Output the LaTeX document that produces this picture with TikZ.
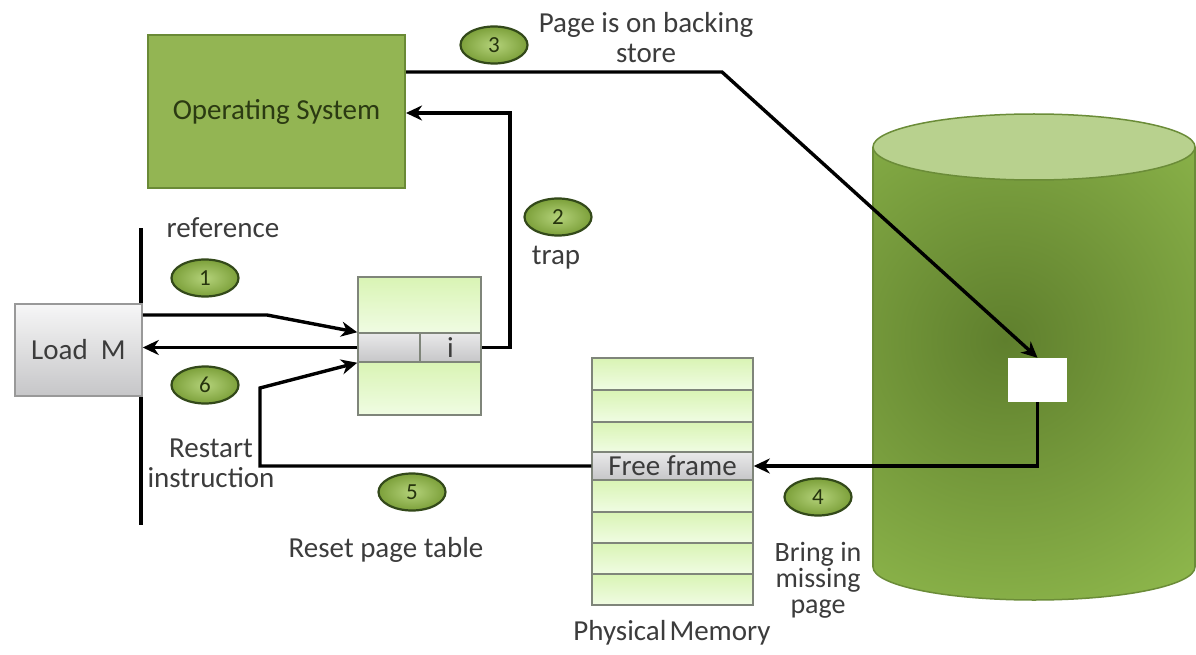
\documentclass[tikz,border=0pt]{standalone}
\usepackage{fontspec}
\setmainfont{Carlito}
\usetikzlibrary{shapes.geometric,arrows.meta,calc}
\definecolor{osfill}{HTML}{93B553}
\definecolor{osdraw}{HTML}{6A8A36}
\definecolor{ostxt}{HTML}{2B3A12}
\definecolor{txt}{HTML}{3C3C3C}
\definecolor{numdraw}{HTML}{33491A}
\definecolor{numin}{HTML}{B4D27A}
\definecolor{numout}{HTML}{7CA03A}
\definecolor{numtxt}{HTML}{26340E}
\definecolor{celltop}{HTML}{D9F4B4}
\definecolor{cellbot}{HTML}{F0FCE3}
\definecolor{cellb}{HTML}{7F857A}
\definecolor{graytop}{HTML}{E9E9EA}
\definecolor{graybot}{HTML}{C6C6C8}
\definecolor{cylin}{HTML}{5F7F2D}
\definecolor{cylout}{HTML}{8DB64B}
\definecolor{cyltop}{HTML}{B8D18E}
\definecolor{cyldraw}{HTML}{6B8C38}
\begin{document}
\begin{tikzpicture}[x=1pt,y=-1pt,
  lbl/.style={font=\fontsize{29}{30}\selectfont, text=txt, inner sep=0pt, align=center},
  num/.style={ellipse, draw=numdraw, line width=2.2pt, inner color=numin, outer color=numout,
    minimum width=67pt, minimum height=37pt, inner sep=0pt,
    font=\fontsize{23}{23}\selectfont, text=numtxt},
  cell/.style={draw=cellb, line width=1.5pt, top color=celltop, bottom color=cellbot,
    minimum width=123pt, inner sep=0pt},
  memrow/.style={draw=cellb, line width=1.5pt, top color=celltop, bottom color=cellbot,
    minimum width=161pt, inner sep=0pt},
  grayrow/.style={draw=cellb, line width=1.5pt, top color=graytop, bottom color=graybot,
    inner sep=0pt, font=\fontsize{29}{30}\selectfont, text=txt},
  arr/.style={line width=3.4pt, draw=black, -{Stealth[length=16pt,width=15pt,inset=5pt]}},
  plain/.style={line width=3.4pt, draw=black}
]
\useasboundingbox (0,0) rectangle (1196,655);
\fill[white] (0,0) rectangle (1196,655);

% cylinder (backing store)
\begin{scope}
  \clip (873,147) rectangle (1195,567);
  \shade[inner color=cylin, outer color=cylout] (1005,340) circle (300pt);
\end{scope}
\begin{scope}
  \clip (1034,567) ellipse [x radius=161pt, y radius=33pt];
  \shade[inner color=cylin, outer color=cylout] (1005,340) circle (300pt);
\end{scope}
\begin{scope}
  \clip (860,567) rectangle (1196,620);
  \draw[cyldraw, line width=1.5pt] (1034,567) ellipse [x radius=161pt, y radius=33pt];
\end{scope}
\draw[cyldraw, line width=1.5pt] (873,147) -- (873,567) (1195,147) -- (1195,567);
\draw[cyldraw, line width=1.5pt, fill=cyltop] (1034,147) ellipse [x radius=161pt, y radius=33pt];
\node[fill=white, minimum width=59pt, minimum height=44pt, inner sep=0pt] (sq) at (1037.5,380) {};

% operating system
\node[draw=osdraw, line width=2pt, fill=osfill, minimum width=257pt, minimum height=153pt,
  font=\fontsize{29}{30}\selectfont, text=ostxt, inner sep=0pt] (os) at (276.5,111.5) {Operating System};

% vertical reference line and Load M
\coordinate (vt) at (141,228);
\coordinate (vb) at (141,525);
\draw[plain] (vt) -- (vb);
\node[draw=gray!80, line width=1.5pt, top color=graytop!40!white, bottom color=graybot,
  minimum width=127pt, minimum height=92pt, inner sep=0pt,
  font=\fontsize{29}{30}\selectfont, text=txt] (load) at (78.5,350) {Load\ \ M};

% page table
\node[cell, minimum height=56pt] (pt1) at (419.5,305) {};
\node[cell, minimum height=53pt] (pt3) at (419.5,388.5) {};
\node[grayrow, minimum width=62pt, minimum height=29pt] (pl) at (389,347.5) {};
\node[grayrow, minimum width=61pt, minimum height=29pt] (pr) at (450.5,347.5) {i};

% physical memory
\foreach \c/\h [count=\i] in {374/32,406/32,437/30,496/32,527.5/31,558.5/31,589.5/31}{
  \node[memrow, minimum height=\h pt] (m\i) at (672.5,\c) {};
}
\node[grayrow, minimum width=161pt, minimum height=28pt] (ff) at (672.5,466) {Free frame};

% labels
\node[lbl] (tref) at (223,228) {reference};
\node[lbl] (trestart) at (211,463) {Restart\\instruction};
\node[lbl] (treset) at (386,550) {Reset page table};
\node[lbl] (ttrap) at (556,258) {trap};
\node[lbl] (tpage) at (646,38) {Page is on backing\\store};
\node[lbl, font=\fontsize{28}{26}\selectfont] (tbring) at (818,580) {Bring in\\missing\\page};
\node[lbl] (tphys) at (672,633) {Physical\hspace{3pt}Memory};

% numbered steps
\node[num] (n1) at (205,278) {1};
\node[num] (n2) at (558,217) {2};
\node[num] (n3) at (494,45) {3};
\node[num] (n4) at (818,497) {4};
\node[num] (n5) at (412,492) {5};
\node[num] (n6) at (205,385) {6};

% connectors
\coordinate (b1) at (267,315);
\draw[arr] (load.east |- b1) -- (b1) -- (pl.north west);
\draw[arr] (pl.west) -- (load.east |- pl.west);
\coordinate (b2a) at (510,347.5);
\coordinate (b2b) at (510,113);
\draw[arr] (pr.east) -- (b2a) -- (b2b) -- (os.east |- b2b);
\coordinate (b3) at (722,72);
\draw[arr] (os.east |- b3) -- (b3) -- (sq.north);
\draw[arr] (sq.south) -- (sq.south |- ff.east) -- (ff.east);
\coordinate (b5a) at (260,466);
\coordinate (b5b) at (260,388);
\draw[arr] (ff.west) -- (b5a) -- (b5b) -- (pl.south west);
\end{tikzpicture}
\end{document}
